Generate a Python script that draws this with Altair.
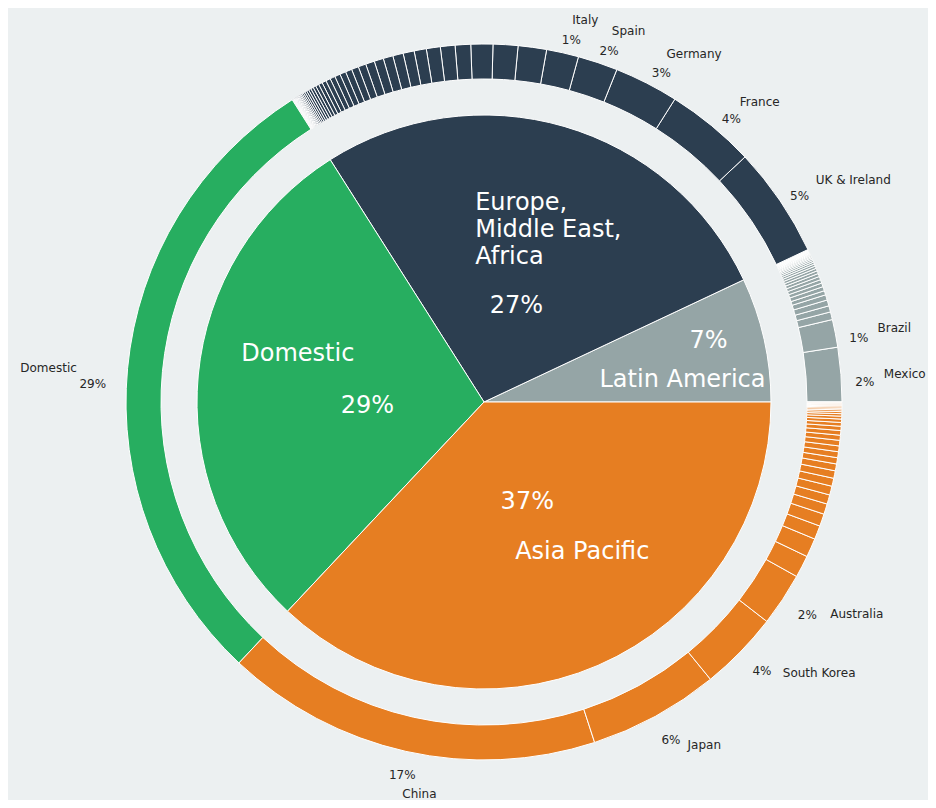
import math
import altair as alt
import pandas as pd

# ---------------- data ----------------
regions = ["Latin America", "Europe, Middle East, Africa", "Domestic", "Asia Pacific"]
region_labels = ["Latin America", "Europe,\nMiddle East,\nAfrica", "Domestic", "Asia Pacific"]
region_share = [7, 27, 29, 37]

latam_named = ["Mexico", "Brazil"]
latam_named_share = [2.45, 1.25]
latam_other_share = [0.35, 0.28, 0.27, 0.24, 0.19, 0.19, 0.17, 0.16, 0.15, 0.14,
                     0.13, 0.12, 0.11, 0.10, 0.09, 0.08, 0.07, 0.06, 0.05, 0.05,
                     0.04, 0.04, 0.03, 0.03, 0.02, 0.02, 0.02, 0.01, 0.01, 0.01,
                     0.01, 0.01, 0.01, 0.01, 0.01, 0.01, 0.01]

emea_named = ["UK & Ireland", "France", "Germany", "Spain", "Italy"]
emea_named_share = [5.0, 4.05, 2.9, 1.8, 1.45]
emea_other_share = [1.28, 1.12, 0.99, 0.70, 0.66, 0.63, 0.55, 0.50, 0.47, 0.44,
                    0.42, 0.40, 0.35, 0.32, 0.29, 0.27, 0.25, 0.23, 0.21, 0.19,
                    0.17, 0.15, 0.13, 0.12, 0.11, 0.10, 0.09, 0.08, 0.07, 0.06,
                    0.05, 0.05, 0.04, 0.04, 0.03, 0.03, 0.03, 0.02, 0.02, 0.02,
                    0.02, 0.01, 0.01, 0.01, 0.01, 0.01, 0.01, 0.01, 0.01, 0.01,
                    0.01]

domestic_named = ["Domestic"]
domestic_named_share = [29]
domestic_other_share = []

asia_named = ["China", "Japan", "South Korea", "Australia"]
asia_named_share = [17.0, 5.9, 3.6, 2.4]
asia_other_share = [1.00, 0.85, 0.62, 0.56, 0.47, 0.42, 0.40, 0.36, 0.34, 0.31,
                    0.28, 0.27, 0.26, 0.25, 0.23, 0.21, 0.19, 0.17, 0.15, 0.13,
                    0.11, 0.09, 0.08, 0.07, 0.06, 0.05, 0.04, 0.03, 0.03, 0.02,
                    0.02, 0.01, 0.01, 0.01]

# ---------------- styles ----------------
region_colors = ["#95a5a6", "#2c3e50", "#27ae60", "#e67e22"]
BG = "#ecf0f1"
TEXT = "#262626"
FONT = "DejaVu Sans"
W, H = 920, 792
CX, CY = 476, 394
R_PIE = 287
R_OUT, R_IN = 358, 323

# ---------------- tables ----------------
inner_rows = []
cum = 0.0
for reg, lab, v in zip(regions, region_labels, region_share):
    inner_rows.append(dict(region=reg, label=lab, start=cum, end=cum + v,
                           mid=cum + v / 2, pct=f"{v}%"))
    cum += v
inner_df = pd.DataFrame(inner_rows)


def label_side(share_mid):
    ang = math.radians(share_mid * 3.6)
    c, s = math.cos(ang), math.sin(ang)
    if c < -0.5:
        return "left"
    if s >= 0.7:
        return "top"
    if s >= 0:
        return "right"
    if c < 0.3:
        return "bottom"
    return "lower"


groups = [
    (regions[0], latam_named, latam_named_share, latam_other_share),
    (regions[1], emea_named, emea_named_share, emea_other_share),
    (regions[2], domestic_named, domestic_named_share, domestic_other_share),
    (regions[3], asia_named, asia_named_share, asia_other_share),
]
outer_rows = []
cum = 0.0
for reg, names, shares, others in groups:
    for n, v in zip(names, shares):
        mid = cum + v / 2
        outer_rows.append(dict(region=reg, name=n, start=cum, end=cum + v, mid=mid,
                               pct=f"{round(v)}%", named=True, side=label_side(mid)))
        cum += v
    for v in others:
        outer_rows.append(dict(region=reg, name="", start=cum, end=cum + v,
                               mid=cum + v / 2, pct="", named=False, side=""))
        cum += v
outer_df = pd.DataFrame(outer_rows)
total = float(cum)

theta_scale = alt.Scale(domain=[0, total], range=[2.5 * math.pi, 0.5 * math.pi])
color_scale = alt.Scale(domain=regions, range=region_colors)
center = dict(x=alt.value(CX), y=alt.value(CY))
theta_mid = alt.Theta("mid:Q", scale=theta_scale, stack=None)

inner = alt.Chart(inner_df).mark_arc(radius=R_PIE, stroke="white", strokeWidth=1).encode(
    theta=alt.Theta("start:Q", scale=theta_scale, stack=None),
    theta2="end:Q",
    color=alt.Color("region:N", scale=color_scale, legend=None),
    **center,
)

outer = alt.Chart(outer_df).mark_arc(radius=R_OUT, radius2=R_IN, stroke="white",
                                     strokeWidth=1).encode(
    theta=alt.Theta("start:Q", scale=theta_scale, stack=None),
    theta2="end:Q",
    color=alt.Color("region:N", scale=color_scale, legend=None),
    **center,
)

named = alt.Chart(outer_df).transform_filter(alt.datum.named)
txt = dict(baseline="middle", fontSize=12, font=FONT, color=TEXT)

# outer labels: side -> (percent placement, name placement)
outer_place = {
    "top": (dict(radius=384, dx=3, dy=13), dict(radius=402, dx=0, dy=10, align="left")),
    "right": (dict(radius=384, dx=-2, dy=10), dict(radius=401, dx=0, dy=3, align="left")),
    "lower": (dict(radius=384, dx=3, dy=1), dict(radius=402, dx=11, dy=-10, align="left")),
    "bottom": (dict(radius=384, dx=2, dy=-2), dict(radius=402, dx=6, dy=0, align="left")),
    "left": (dict(radius=384, dx=-9, dy=18), dict(radius=409, dx=0, dy=4, align="right")),
}
outer_texts = []
for side, (ps, ns) in outer_place.items():
    sub = named.transform_filter(alt.datum.side == side)
    outer_texts.append(sub.mark_text(align="center", **ps, **txt).encode(
        theta=theta_mid, text="pct:N", **center))
    outer_texts.append(sub.mark_text(**ns, **txt).encode(
        theta=theta_mid, text="name:N", **center))

# inner label placement (radius from centre, fine nudges)
name_place = {
    regions[0]: dict(radius=187, dx=16, dy=19, align="center"),
    regions[1]: dict(radius=187, dx=-61, dy=-19, align="left"),
    regions[2]: dict(radius=187, dx=0, dy=-30, align="center"),
    regions[3]: dict(radius=187, dx=24, dy=-22, align="center"),
}
pct_place = {
    regions[0]: dict(radius=230, dx=0, dy=-11),
    regions[1]: dict(radius=109, dx=2, dy=9),
    regions[2]: dict(radius=109, dx=-8, dy=14),
    regions[3]: dict(radius=109, dx=0, dy=0),
}

inner_texts = []
for reg in regions:
    base = alt.Chart(inner_df).transform_filter(alt.datum.region == reg)
    p = name_place[reg]
    inner_texts.append(base.mark_text(
        radius=p["radius"], dx=p["dx"], dy=p["dy"], align=p["align"], baseline="middle",
        fontSize=24, font=FONT, color="white", lineBreak="\n", lineHeight=27
    ).encode(theta=theta_mid, text="label:N", **center))
    q = pct_place[reg]
    inner_texts.append(base.mark_text(
        radius=q["radius"], dx=q["dx"], dy=q["dy"], align="center", baseline="middle",
        fontSize=24, font=FONT, color="white"
    ).encode(theta=theta_mid, text="pct:N", **center))

chart = alt.layer(inner, outer, *outer_texts, *inner_texts).properties(
    width=W, height=H, background=BG, padding=0, autosize="none"
).configure_view(stroke=None)

chart.save("out.html", embed_options={"renderer": "svg", "actions": False})
